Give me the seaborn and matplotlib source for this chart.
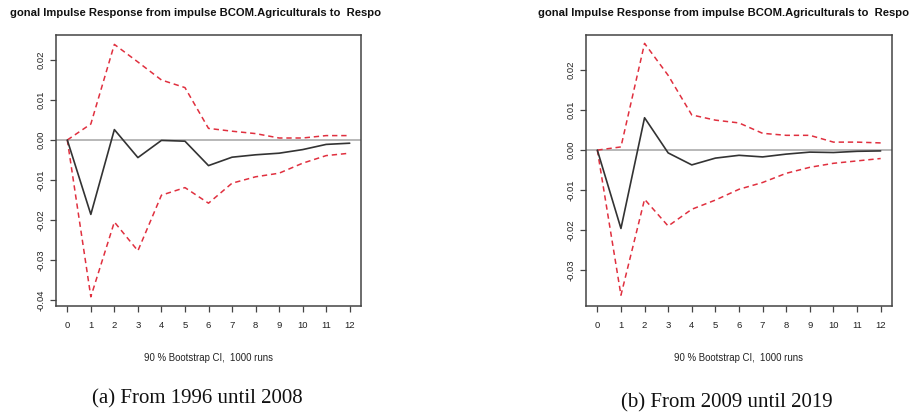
import numpy as np
import pandas as pd
import matplotlib
matplotlib.use("Agg")
import matplotlib.pyplot as plt
import seaborn as sns

# ---- data ----
steps = list(range(13))
resp_a = [0.0, -0.0186, 0.0026, -0.0044, -0.0001, -0.0003, -0.0064, -0.0043, -0.0037, -0.0033, -0.0024, -0.0011, -0.0008]
upper_a = [0.0, 0.0040, 0.0239, 0.0195, 0.0150, 0.0131, 0.0029, 0.0022, 0.0016, 0.0005, 0.0005, 0.0011, 0.0011]
lower_a = [0.0, -0.0392, -0.0205, -0.0277, -0.0138, -0.0119, -0.0158, -0.0108, -0.0092, -0.0083, -0.0058, -0.0039, -0.0033]

resp_b = [0.0, -0.0196, 0.0081, -0.0007, -0.0037, -0.0020, -0.0013, -0.0017, -0.0010, -0.0005, -0.0006, -0.0003, -0.0002]
upper_b = [0.0, 0.0008, 0.0267, 0.0187, 0.0088, 0.0075, 0.0068, 0.0042, 0.0037, 0.0037, 0.0020, 0.0020, 0.0018]
lower_b = [0.0, -0.0363, -0.0123, -0.0190, -0.0148, -0.0125, -0.0098, -0.0081, -0.0058, -0.0043, -0.0033, -0.0027, -0.0021]

title_text = "gonal Impulse Response from impulse BCOM.Agriculturals to  Respo"
xlabel_text = "90 % Bootstrap CI,  1000 runs"
captions = ["(a) From 1996 until 2008", "(b) From 2009 until 2019"]
yticks_a = [-0.04, -0.03, -0.02, -0.01, 0.00, 0.01, 0.02]
yticks_b = [-0.03, -0.02, -0.01, 0.00, 0.01, 0.02]
ytick_labels_a = ["-0.04", "-0.03", "-0.02", "-0.01", "0.00", "0.01", "0.02"]
ytick_labels_b = ["-0.03", "-0.02", "-0.01", "0.00", "0.01", "0.02"]

sns.set_style("white")
plt.rcParams['font.family'] = ['Liberation Sans', 'DejaVu Sans']

W, H = 917, 416
fig = plt.figure(figsize=(W / 100, H / 100), dpi=100)

def px_axes(x0, y0, x1, y1):
    return fig.add_axes([x0 / W, 1 - y1 / H, (x1 - x0) / W, (y1 - y0) / H])

panels = [
    dict(box=(56, 35, 361, 306), resp=resp_a, up=upper_a, lo=lower_a, ylim=(-0.0415, 0.02625),
         yt=yticks_a, ytl=ytick_labels_a, title_x=10, xlab_x=208, cap_x=197, cap_y=399, cap=captions[0]),
    dict(box=(586, 35, 892, 306), resp=resp_b, up=upper_b, lo=lower_b, ylim=(-0.0390, 0.0288),
         yt=yticks_b, ytl=ytick_labels_b, title_x=538, xlab_x=738, cap_x=727, cap_y=403, cap=captions[1]),
]

red = "#e0303f"
for p in panels:
    ax = px_axes(*p["box"])
    df = pd.DataFrame({"step": steps, "resp": p["resp"], "up": p["up"], "lo": p["lo"]})
    ax.axhline(0, color="#b8b8b8", lw=1.4, zorder=1)
    sns.lineplot(data=df, x="step", y="up", ax=ax, color=red, lw=1.1, linestyle=(0, (3.5, 2.5)), zorder=2)
    sns.lineplot(data=df, x="step", y="lo", ax=ax, color=red, lw=1.1, linestyle=(0, (3.5, 2.5)), zorder=2)
    sns.lineplot(data=df, x="step", y="resp", ax=ax, color="#333333", lw=1.2, zorder=3)
    ax.set_xlim(-0.48, 12.48)
    ax.set_ylim(*p["ylim"])
    ax.set_xticks(steps)
    ax.set_xticklabels([str(s) for s in steps], fontsize=6.8, color="#222222")
    ax.set_yticks(p["yt"])
    ax.set_yticklabels(p["ytl"], fontsize=6.8, rotation=90, va="center", color="#222222")
    ax.tick_params(axis="both", direction="out", length=4.3, width=0.9, color="#444444")
    ax.tick_params(axis="x", bottom=True, pad=6.3)
    ax.tick_params(axis="y", left=True, pad=3.2)
    ax.set_xlabel("")
    ax.set_ylabel("")
    for s in ax.spines.values():
        s.set_color("#444444")
        s.set_linewidth(1.1)
    fig.text(p["title_x"] / W, 1 - 13.5 / H, title_text, fontsize=8.15, fontweight="bold",
             ha="left", va="center", color="#111111")
    fig.text(p["xlab_x"] / W, 1 - 358 / H, xlabel_text, fontsize=6.9, ha="center", va="center",
             color="#222222")
    fig.text(p["cap_x"] / W, 1 - p["cap_y"] / H, p["cap"], fontsize=15, ha="center", va="center",
             family=["Liberation Serif", "DejaVu Serif"], color="#111111")

fig.savefig("out.png", dpi=100)
